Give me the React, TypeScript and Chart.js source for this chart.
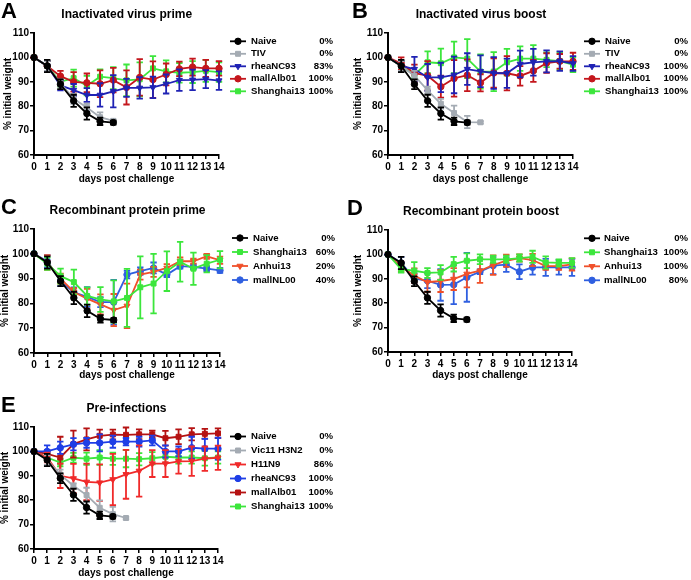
import React, { useEffect, useRef } from "react";
import { Chart, registerables } from "chart.js";
import { drawPoint } from "chart.js/helpers";

Chart.register(...registerables);

const FONT = "'Liberation Sans', Arial, Helvetica, sans-serif";

// categories / tick labels
const DAYS = [0, 1, 2, 3, 4, 5, 6, 7, 8, 9, 10, 11, 12, 13, 14];
const Y_TICKS = [60, 70, 80, 90, 100, 110];

// shared naive control
const naiveMean = [100, 96.5, 89, 82.2, 77, 73.8, 73.3];
const naiveSd = [0, 2.5, 2, 2.5, 2.5, 1.5, 0.8];

// Panel A – Inactivated virus prime
const aTivMean = [100, 96.5, 89.5, 83, 79.5, 75.5, 74];
const aTivSd = [0, 2, 1.5, 2, 1.5, 2, 0.5];
const aRheaMean = [100, 96.5, 88.5, 86.6, 84.6, 84.6, 86.1, 87.5, 87.5, 87.7, 89.1, 90.7, 90.8, 91.1, 90.5];
const aRheaSd = [0, 2, 2, 2.5, 2.8, 4.8, 6.6, 3.7, 4.4, 4.4, 3.9, 4.4, 4.2, 3.7, 3.8];
const aMallMean = [100, 96.5, 92.3, 90, 89.6, 89.2, 90.7, 87.7, 91.8, 90.9, 93, 95.3, 96, 95.5, 95.5];
const aMallSd = [0, 2, 2.2, 4, 3.8, 5.5, 5, 7, 7.5, 7.5, 4.5, 3, 3.5, 3.5, 3];
const aShangMean = [100, 96.5, 90, 91.5, 88.4, 92.1, 91.5, 90.6, 91, 95.5, 94.3, 93.7, 94, 94.5, 94];
const aShangSd = [0, 2, 2, 3.5, 4, 3, 4.5, 6.5, 7, 5, 4.5, 4, 4.5, 4.5, 4];

// Panel B – Inactivated virus boost
const bTivMean = [100, 96.5, 92.5, 86.5, 81, 77.2, 73.5, 73.4];
const bTivSd = [0, 2, 2, 1.5, 2, 3, 2.5, 0.5];
const bRheaMean = [100, 96.5, 95.2, 91.8, 91.8, 92.8, 95.2, 94.3, 93.6, 93.5, 97.3, 98, 98.4, 98.5, 97.5];
const bRheaSd = [0, 2, 5, 5.5, 6, 7.5, 6.5, 6.5, 6.5, 6, 5.5, 5.5, 4.5, 4, 3];
const bMallMean = [100, 97.5, 93.5, 92.5, 88, 91.4, 92.7, 89.6, 93.6, 93.5, 92.4, 94.5, 97.7, 98.4, 98.4];
const bMallSd = [0, 2.5, 3.5, 6, 4.5, 7.5, 6.5, 3.5, 6, 7, 4, 4.5, 4, 3, 3.5];
const bShangMean = [100, 96.5, 92.8, 98, 97.6, 100, 99.5, 94.2, 94.2, 98, 99.5, 99.5, 99, 98.5, 97];
const bShangSd = [0, 2, 1.5, 4.5, 6, 6.5, 8, 7, 8, 5.5, 5, 5.5, 3, 3.5, 3];

// Panel C – Recombinant protein prime
const cShangMean = [100, 96, 91, 88.6, 83, 81.6, 80.8, 82.2, 86.5, 88, 93, 96.8, 94, 96, 97.6];
const cShangSd = [0, 2.5, 3, 5, 3.5, 5, 8.5, 11.7, 12.5, 12, 8, 8, 6.5, 3.5, 3.5];
const cAnhuiMean = [100, 96.5, 90, 84.6, 81.9, 79.6, 77.3, 79, 91.6, 92.7, 94.3, 97, 97, 99, 97.4];
const cAnhuiSd = [0, 3, 2, 1.5, 4, 4, 6.5, 9, 2, 2, 1.5, 1.5, 1, 1, 1.5];
const cMallMean = [100, 97, 89, 84.5, 82.6, 80.5, 80.5, 91.6, 93, 94.3, 91.6, 95, 94.7, 94, 93.3];
const cMallSd = [0, 2.5, 2, 2, 4, 2, 9, 1.5, 1.5, 2.2, 1, 1, 1, 1, 1];

// Panel D – Recombinant protein boost
const dShangMean = [100, 94, 93.3, 92.4, 92.6, 96, 97.4, 98, 98, 98, 98.5, 99, 96.7, 96.5, 96.5];
const dShangSd = [0, 1.5, 3.5, 2, 3, 3, 3, 2, 1.5, 1.5, 1.5, 2.5, 2.5, 1.5, 2];
const dAnhuiMean = [100, 95, 91.3, 88.6, 89.1, 89.9, 92, 93.3, 95.6, 97.4, 98.5, 97.7, 95.2, 95.2, 95.9];
const dAnhuiSd = [0, 2, 3, 4, 4.5, 4.5, 5.5, 5, 4, 2.5, 1.5, 2.5, 1.5, 1.5, 2.5];
const dMallMean = [100, 96.5, 90.2, 89.2, 87.5, 87.6, 90.6, 92.9, 95.4, 95.8, 92.9, 94.7, 94.7, 94.7, 94.7];
const dMallSd = [0, 2.5, 2, 3, 6.5, 8, 10, 1, 3.5, 3, 3, 3, 3.5, 3, 3.5];

// Panel E – Pre-infections
const eVicMean = [100, 96.5, 90.5, 85.9, 82.1, 76.9, 74.3, 72.7];
const eVicSd = [0, 2, 2, 1, 3, 3, 3, 0.5];
const eH11Mean = [100, 97.5, 90, 88.9, 87.5, 87.2, 88.5, 90.6, 92, 95, 95, 95.9, 96, 97, 97.4];
const eH11Sd = [0, 2, 5, 6, 7.5, 7.5, 10.5, 10, 10.5, 5.5, 5.5, 5, 6, 5, 5];
const eRheaMean = [100, 100, 101.5, 102.9, 103.5, 103.5, 104, 104, 104, 104.5, 100, 100, 101.5, 101.1, 101.1];
const eRheaSd = [0, 2.5, 2.5, 2.5, 2, 3.5, 2.5, 1.5, 2, 2, 2.5, 2, 4.5, 4, 4.5];
const eMallMean = [100, 99, 97.5, 103, 104.9, 106.4, 106.9, 106.8, 107, 107, 105.4, 106, 107, 107.2, 107.4];
const eMallSd = [0, 1.5, 8.5, 5.5, 4.5, 2.5, 2, 3, 2, 1.5, 3, 3, 2.5, 2, 2];
const eShangMean = [100, 97.5, 95.4, 97.4, 97, 97.5, 97, 97, 96.8, 97.2, 97.8, 97.5, 97.5, 97.2, 97.5];
const eShangSd = [0, 1.5, 1.5, 2, 2.5, 3, 2.5, 3.5, 2.5, 2.5, 2.5, 2.5, 2.5, 3, 2.5];

const BLACK = "#000000";
const GRAY = "#a4abb3";
const NAVY = "#1f22b4";
const CRIMSON = "#c4161c";
const GREEN = "#3ce63c";
const ORANGE = "#f0502a";
const ROYAL = "#2f5fe0";
const RED = "#f02a2a";
const BLUE_E = "#1e3ee6";
const DARKRED = "#b51212";

type Series = {
  name: string; pct: string; mean: number[]; sd: number[];
  color: string; style: string; r: number; rot?: number;
};

const naive = (): Series => ({ name: "Naive", pct: "0%", mean: naiveMean, sd: naiveSd, color: BLACK, style: "circle", r: 3.2 });

type PanelCfg = {
  box: { x: number; y: number; w: number; h: number };
  area: { l: number; r: number; t: number; b: number };
  yTitleX: number; xTitleY: number;
  letter: string; letterX: number; letterY: number;
  title: string; titleX: number; titleY: number;
  leg: { y0: number; dy: number; x1: number; x2: number; nx: number; px: number };
  series: Series[];
};

const PANELS: PanelCfg[] = [
  {
    box: { x: 0, y: 0, w: 345, h: 196 },
    area: { l: 34, r: 219, t: 33, b: 155 },
    yTitleX: 8, xTitleY: 179,
    letter: "A", letterX: 1, letterY: 18,
    title: "Inactivated virus prime", titleX: 126.7, titleY: 14.3,
    leg: { y0: 41.3, dy: 12.5, x1: 230, x2: 246, nx: 251, px: 333 },
    series: [
      naive(),
      { name: "TIV", pct: "0%", mean: aTivMean, sd: aTivSd, color: GRAY, style: "rect", r: 3.5 },
      { name: "rheaNC93", pct: "83%", mean: aRheaMean, sd: aRheaSd, color: NAVY, style: "triangle", r: 3.5, rot: 180 },
      { name: "mallAlb01", pct: "100%", mean: aMallMean, sd: aMallSd, color: CRIMSON, style: "circle", r: 3.2 },
      { name: "Shanghai13", pct: "100%", mean: aShangMean, sd: aShangSd, color: GREEN, style: "rect", r: 3.5 },
    ],
  },
  {
    box: { x: 345, y: 0, w: 346, h: 196 },
    area: { l: 388, r: 573, t: 33, b: 155 },
    yTitleX: 358, xTitleY: 179,
    letter: "B", letterX: 352, letterY: 18,
    title: "Inactivated virus boost", titleX: 481, titleY: 14.3,
    leg: { y0: 41.3, dy: 12.5, x1: 584, x2: 600, nx: 605, px: 688 },
    series: [
      naive(),
      { name: "TIV", pct: "0%", mean: bTivMean, sd: bTivSd, color: GRAY, style: "rect", r: 3.5 },
      { name: "rheaNC93", pct: "100%", mean: bRheaMean, sd: bRheaSd, color: NAVY, style: "triangle", r: 3.5, rot: 180 },
      { name: "mallAlb01", pct: "100%", mean: bMallMean, sd: bMallSd, color: CRIMSON, style: "circle", r: 3.2 },
      { name: "Shanghai13", pct: "100%", mean: bShangMean, sd: bShangSd, color: GREEN, style: "rect", r: 3.5 },
    ],
  },
  {
    box: { x: 0, y: 196, w: 345, h: 194 },
    area: { l: 34, r: 220, t: 229, b: 353 },
    yTitleX: 5, xTitleY: 375.7,
    letter: "C", letterX: 1, letterY: 214,
    title: "Recombinant protein prime", titleX: 127.5, titleY: 211,
    leg: { y0: 238, dy: 14, x1: 232, x2: 248, nx: 253, px: 335 },
    series: [
      naive(),
      { name: "Shanghai13", pct: "60%", mean: cShangMean, sd: cShangSd, color: GREEN, style: "rect", r: 3.5 },
      { name: "Anhui13", pct: "20%", mean: cAnhuiMean, sd: cAnhuiSd, color: ORANGE, style: "triangle", r: 3.5, rot: 180 },
      { name: "mallNL00", pct: "40%", mean: cMallMean, sd: cMallSd, color: ROYAL, style: "circle", r: 3.2 },
    ],
  },
  {
    box: { x: 345, y: 196, w: 346, h: 194 },
    area: { l: 388, r: 572, t: 230, b: 352 },
    yTitleX: 358, xTitleY: 375.7,
    letter: "D", letterX: 347, letterY: 215,
    title: "Recombinant protein boost", titleX: 481, titleY: 212,
    leg: { y0: 238.3, dy: 14, x1: 584, x2: 600, nx: 604, px: 688 },
    series: [
      naive(),
      { name: "Shanghai13", pct: "100%", mean: dShangMean, sd: dShangSd, color: GREEN, style: "rect", r: 3.5 },
      { name: "Anhui13", pct: "100%", mean: dAnhuiMean, sd: dAnhuiSd, color: ORANGE, style: "triangle", r: 3.5, rot: 180 },
      { name: "mallNL00", pct: "80%", mean: dMallMean, sd: dMallSd, color: ROYAL, style: "circle", r: 3.2 },
    ],
  },
  {
    box: { x: 0, y: 390, w: 345, h: 190 },
    area: { l: 34, r: 218, t: 427, b: 549 },
    yTitleX: 5, xTitleY: 573,
    letter: "E", letterX: 1, letterY: 411.5,
    title: "Pre-infections", titleX: 126.5, titleY: 409,
    leg: { y0: 436.5, dy: 14, x1: 230, x2: 246, nx: 251, px: 333 },
    series: [
      naive(),
      { name: "Vic11 H3N2", pct: "0%", mean: eVicMean, sd: eVicSd, color: GRAY, style: "rect", r: 3.5 },
      { name: "H11N9", pct: "86%", mean: eH11Mean, sd: eH11Sd, color: RED, style: "triangle", r: 3.5, rot: 180 },
      { name: "rheaNC93", pct: "100%", mean: eRheaMean, sd: eRheaSd, color: BLUE_E, style: "circle", r: 3.2 },
      { name: "mallAlb01", pct: "100%", mean: eMallMean, sd: eMallSd, color: DARKRED, style: "rect", r: 3.5 },
      { name: "Shanghai13", pct: "100%", mean: eShangMean, sd: eShangSd, color: GREEN, style: "rect", r: 3.5 },
    ],
  },
];

const errorBarPlugin = {
  id: "errorBars",
  beforeDatasetDraw(chart: any, args: any) {
    const ds = chart.data.datasets[args.index];
    const sd: number[] = ds.sd;
    if (!sd) return;
    const { ctx } = chart;
    const xs = chart.scales.x, ys = chart.scales.y;
    ctx.save();
    ctx.strokeStyle = ds.borderColor;
    ctx.lineWidth = 1.8;
    ds.data.forEach((pt: any, i: number) => {
      const e = sd[i];
      if (!e) return;
      const px = xs.getPixelForValue(pt.x);
      const yt = ys.getPixelForValue(pt.y + e);
      const yb = ys.getPixelForValue(pt.y - e);
      ctx.beginPath();
      ctx.moveTo(px, yt); ctx.lineTo(px, yb);
      ctx.moveTo(px - 3.2, yt); ctx.lineTo(px + 3.2, yt);
      ctx.moveTo(px - 3.2, yb); ctx.lineTo(px + 3.2, yb);
      ctx.stroke();
    });
    ctx.restore();
  },
};

function makeDecor(p: PanelCfg) {
  return {
    id: "decor",
    afterDraw(chart: any) {
      const c = chart.ctx as CanvasRenderingContext2D;
      const ox = p.box.x, oy = p.box.y;
      c.save();
      c.fillStyle = "#000";
      c.font = `bold 22px ${FONT}`;
      c.textAlign = "left";
      c.textBaseline = "alphabetic";
      c.fillText(p.letter, p.letterX - ox, p.letterY - oy);
      c.font = `bold 12px ${FONT}`;
      c.textAlign = "center";
      c.textBaseline = "middle";
      c.fillText(p.title, p.titleX - ox, p.titleY - oy);
      c.font = `bold 9.6px ${FONT}`;
      p.series.forEach((s, i) => {
        const ry = p.leg.y0 + i * p.leg.dy - oy;
        c.strokeStyle = s.color;
        c.lineWidth = 1.8;
        c.beginPath();
        c.moveTo(p.leg.x1 - ox, ry);
        c.lineTo(p.leg.x2 - ox, ry);
        c.stroke();
        c.fillStyle = s.color;
        c.lineWidth = 1;
        drawPoint(c, { pointStyle: s.style as any, radius: s.r, rotation: s.rot || 0, borderWidth: 1 } as any, (p.leg.x1 + p.leg.x2) / 2 - ox, ry);
        c.fillStyle = "#000";
        c.textBaseline = "middle";
        c.textAlign = "left";
        c.fillText(s.name, p.leg.nx - ox, ry);
        c.textAlign = "right";
        c.fillText(s.pct, p.leg.px - ox, ry);
      });
      c.restore();
    },
  };
}

function Panel({ p }: { p: PanelCfg }) {
  const ref = useRef<HTMLCanvasElement | null>(null);
  useEffect(() => {
    const canvas = ref.current;
    if (!canvas) return;
    const padLeft = p.yTitleX - 5 - p.box.x;
    const yW = p.area.l - (p.yTitleX - 5);
    const padTop = p.area.t - p.box.y;
    const padRight = p.box.x + p.box.w - p.area.r;
    const padBottom = p.box.y + p.box.h - (p.xTitleY + 5);
    const xH = p.xTitleY + 5 - p.area.b;
    const tickFont = { family: FONT, size: 10, weight: "bold" as const };
    const titleFont = { family: FONT, size: 10, weight: "bold" as const, lineHeight: 1 };
    const chart = new Chart(canvas, {
      type: "line",
      data: {
        datasets: p.series.map((s) => ({
          label: s.name,
          data: s.mean.map((v, i) => ({ x: DAYS[i], y: v })),
          borderColor: s.color,
          backgroundColor: s.color,
          borderWidth: 1.8,
          pointStyle: s.style as any,
          pointRotation: s.rot || 0,
          pointRadius: s.r,
          pointBorderWidth: 1,
          pointBackgroundColor: s.color,
          pointBorderColor: s.color,
          tension: 0,
          clip: false as any,
          sd: s.sd,
        })) as any,
      },
      options: {
        responsive: false,
        animation: false,
        events: [],
        layout: { padding: { left: padLeft, top: padTop, right: padRight, bottom: padBottom } },
        plugins: { legend: { display: false }, title: { display: false }, tooltip: { enabled: false } },
        scales: {
          x: {
            type: "linear",
            min: DAYS[0],
            max: DAYS[DAYS.length - 1],
            afterFit: (s: any) => { s.height = xH; },
            ticks: { stepSize: 1, autoSkip: false, maxRotation: 0, color: "#000", font: tickFont, padding: 2 },
            grid: { display: true, drawOnChartArea: false, drawTicks: true, tickLength: 4, color: "#000", lineWidth: 1.5 },
            border: { display: true, color: "#000", width: 2 },
            title: { display: true, text: "days post challenge", color: "#000", font: titleFont, padding: 0 },
          },
          y: {
            type: "linear",
            min: Y_TICKS[0],
            max: Y_TICKS[Y_TICKS.length - 1],
            afterFit: (s: any) => { s.width = yW; },
            ticks: { stepSize: Y_TICKS[1] - Y_TICKS[0], color: "#000", font: tickFont, padding: 1 },
            grid: { display: true, drawOnChartArea: false, drawTicks: true, tickLength: 4, color: "#000", lineWidth: 1.5 },
            border: { display: true, color: "#000", width: 2 },
            title: { display: true, text: "% initial weight", color: "#000", font: titleFont, padding: 0 },
          },
        },
      } as any,
      plugins: [errorBarPlugin, makeDecor(p)],
    });
    return () => chart.destroy();
  }, [p]);
  return (
    <canvas
      ref={ref}
      width={p.box.w}
      height={p.box.h}
      style={{ position: "absolute", left: p.box.x, top: p.box.y, display: "block" }}
    />
  );
}

export default function App() {
  return (
    <div style={{ position: "absolute", left: 0, top: 0, width: 691, height: 580, background: "#fff" }}>
      {PANELS.map((p) => (
        <Panel key={p.letter} p={p} />
      ))}
    </div>
  );
}
